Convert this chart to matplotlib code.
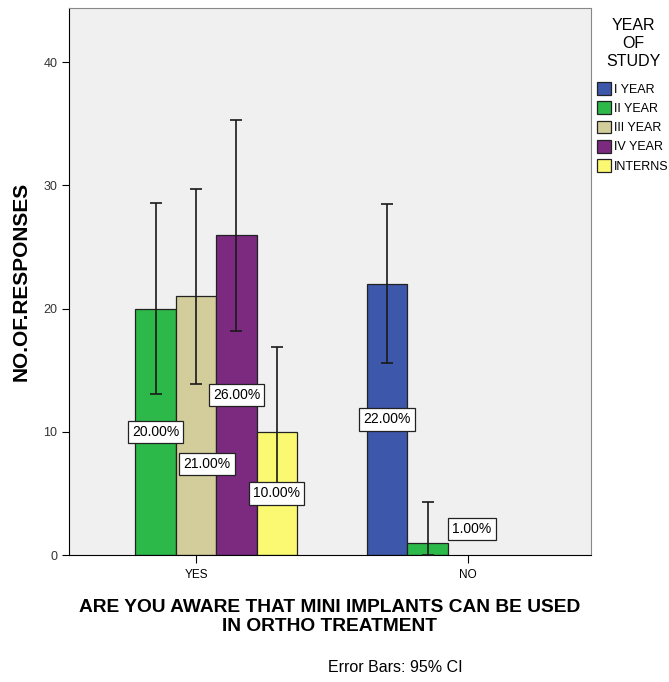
import numpy as np
import matplotlib.pyplot as plt
from matplotlib.patches import Patch

plt.rcParams['font.family'] = ['Liberation Sans', 'DejaVu Sans']

# categories on x and the year-of-study series
answers = ['YES', 'NO']
years = ['I YEAR', 'II YEAR', 'III YEAR', 'IV YEAR', 'INTERNS']
colors = ['#3D57AB', '#2DB84A', '#D3CD9B', '#7B2A80', '#FBF872']

# counts per year (nan = no bar drawn)
yes_counts = [np.nan, 20, 21, 26, 10]
no_counts = [22, 1, np.nan, np.nan, np.nan]

# 95% CI
yes_low = [np.nan, 13.1, 13.9, 18.2, 5.3]
yes_high = [np.nan, 28.6, 29.7, 35.3, 16.9]
no_low = [15.6, 0.0, np.nan, np.nan, np.nan]
no_high = [28.5, 4.3, np.nan, np.nan, np.nan]

yes_pct = ['', '20.00%', '21.00%', '26.00%', '10.00%']
no_pct = ['22.00%', '1.00%', '', '', '']

fig = plt.figure(figsize=(6.69, 6.82), dpi=100)
ax = fig.add_axes([69 / 669, 1 - 555 / 682, 522 / 669, 547 / 682])
ax.set_facecolor('#F0F0F0')

width = 0.1485
# label nudges (dx, y) for boxes SPSS moved to avoid overlap
nudge = {(0, 2): (0.04, 7.4), (1, 1): (0.162, 2.1)}

counts = [yes_counts, no_counts]
lows = [yes_low, no_low]
highs = [yes_high, no_high]
pcts = [yes_pct, no_pct]

for g in range(len(answers)):
    for i in range(len(years)):
        v = counts[g][i]
        if np.isnan(v):
            continue
        x = g + (i - 2) * width
        ax.bar(x, v, width, color=colors[i], edgecolor='#222222', linewidth=0.9, zorder=2)
        ax.errorbar(x, v, yerr=[[v - lows[g][i]], [highs[g][i] - v]], fmt='none',
                    ecolor='#1a1a1a', elinewidth=1.2, capsize=4.5, capthick=1.2, zorder=3)
        dx, ly = nudge.get((g, i), (0, v / 2))
        ax.text(x + dx, ly, pcts[g][i], ha='center', va='center', fontsize=10, zorder=4,
                bbox=dict(boxstyle='square,pad=0.3', facecolor='white', edgecolor='#222222', linewidth=0.9))

ax.set_xlim(-0.467, 1.452)
ax.set_ylim(0, 44.4)
ax.set_xticks([0, 1])
ax.set_xticklabels(answers, fontsize=8.5)
ax.set_yticks([0, 10, 20, 30, 40])
ax.tick_params(axis='y', labelsize=9, labelcolor='#333333', length=5)
ax.tick_params(axis='x', length=6, pad=4)
for s in ['top', 'right']:
    ax.spines[s].set_color('#888888')

ax.set_ylabel('NO.OF.RESPONSES', fontsize=15, fontweight='bold', labelpad=9)
ax.set_xlabel('ARE YOU AWARE THAT MINI IMPLANTS CAN BE USED\nIN ORTHO TREATMENT',
              fontsize=13.8, fontweight='bold', labelpad=13, linespacing=1.15)

fig.text(395 / 669, 1 - 668 / 682, 'Error Bars: 95% CI', ha='center', va='center', fontsize=11.5)

# legend title drawn separately so the line spacing matches
fig.text(633 / 669, 1 - 44 / 682, 'YEAR\nOF\nSTUDY', ha='center', va='center',
         fontsize=11.5, linespacing=1.25)
handles = [Patch(facecolor=c, edgecolor='#222222', linewidth=0.9) for c in colors]
leg = fig.legend(handles, years, loc='upper left', bbox_to_anchor=(597 / 669, 1 - 82 / 682),
                 frameon=False, fontsize=9, handlelength=1.1, handleheight=1.2,
                 handletextpad=0.25, labelspacing=0.45, borderaxespad=0, borderpad=0)

fig.savefig('out.png', dpi=100)
